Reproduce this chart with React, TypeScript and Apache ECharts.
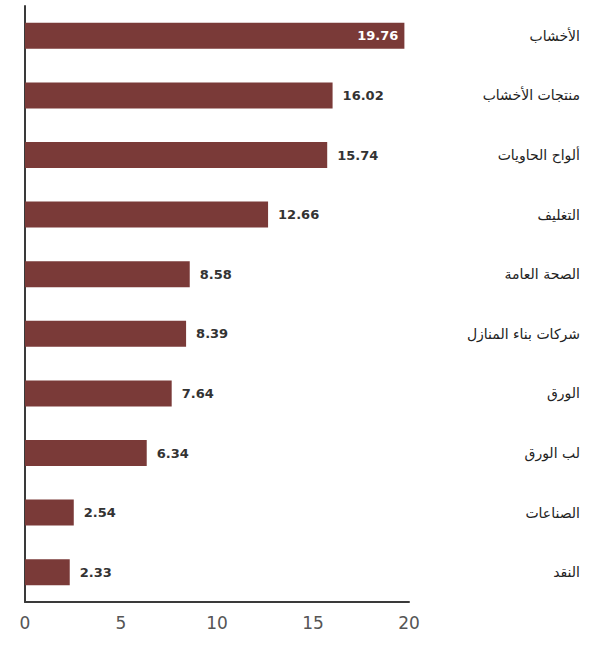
import React, { useEffect, useRef } from "react";
import * as echarts from "echarts";

const categories = [
  "الأخشاب",
  "منتجات الأخشاب",
  "ألواح الحاويات",
  "التغليف",
  "الصحة العامة",
  "شركات بناء المنازل",
  "الورق",
  "لب الورق",
  "الصناعات",
  "النقد",
];
const values = [19.76, 16.02, 15.74, 12.66, 8.58, 8.39, 7.64, 6.34, 2.54, 2.33];
const xTicks = [0, 5, 10, 15, 20];

export default function App() {
  const ref = useRef<HTMLDivElement>(null);
  useEffect(() => {
    document.body.style.margin = "0";
    const chart = echarts.init(ref.current!, undefined, { renderer: "svg" });
    const numFont = "DejaVu Sans, sans-serif";
    chart.setOption({
      animation: false,
      backgroundColor: "#ffffff",
      grid: { left: 25, right: 207, top: 6, bottom: 44, containLabel: false },
      xAxis: {
        type: "value",
        min: xTicks[0],
        max: xTicks[xTicks.length - 1],
        interval: 5,
        axisLine: { show: true, lineStyle: { color: "#3a3a3a", width: 2 } },
        axisTick: { show: false },
        splitLine: { show: false },
        axisLabel: {
          color: "#555",
          fontSize: 17,
          fontFamily: numFont,
          margin: 12,
        },
      },
      yAxis: [
        {
          type: "category",
          data: categories,
          inverse: true,
          position: "left",
          axisLine: { show: true, lineStyle: { color: "#3a3a3a", width: 2 } },
          axisTick: { show: false },
          axisLabel: { show: false },
        },
        {
          type: "category",
          data: categories,
          inverse: true,
          position: "right",
          axisLine: { show: false },
          axisTick: { show: false },
          axisLabel: {
            show: true,
            align: "right",
            margin: 171,
            color: "#222",
            fontSize: 14,
            fontFamily: "DejaVu Sans, Noto Sans, sans-serif",
          },
        },
      ],
      series: [
        {
          type: "bar",
          data: values.map((v, i) =>
            i === 0
              ? {
                  value: v,
                  label: {
                    position: "insideRight",
                    color: "#ffffff",
                    distance: 6,
                  },
                }
              : v
          ),
          yAxisIndex: 0,
          barWidth: 26,
          itemStyle: { color: "#7a3a38" },
          label: {
            show: true,
            position: "right",
            distance: 10,
            color: "#333",
            fontSize: 13,
            fontWeight: "bold",
            fontFamily: numFont,
            formatter: (p: any) => String(p.value),
          },
        },
      ],
    });
    return () => chart.dispose();
  }, []);
  return <div ref={ref} style={{ width: 616, height: 646 }} />;
}
